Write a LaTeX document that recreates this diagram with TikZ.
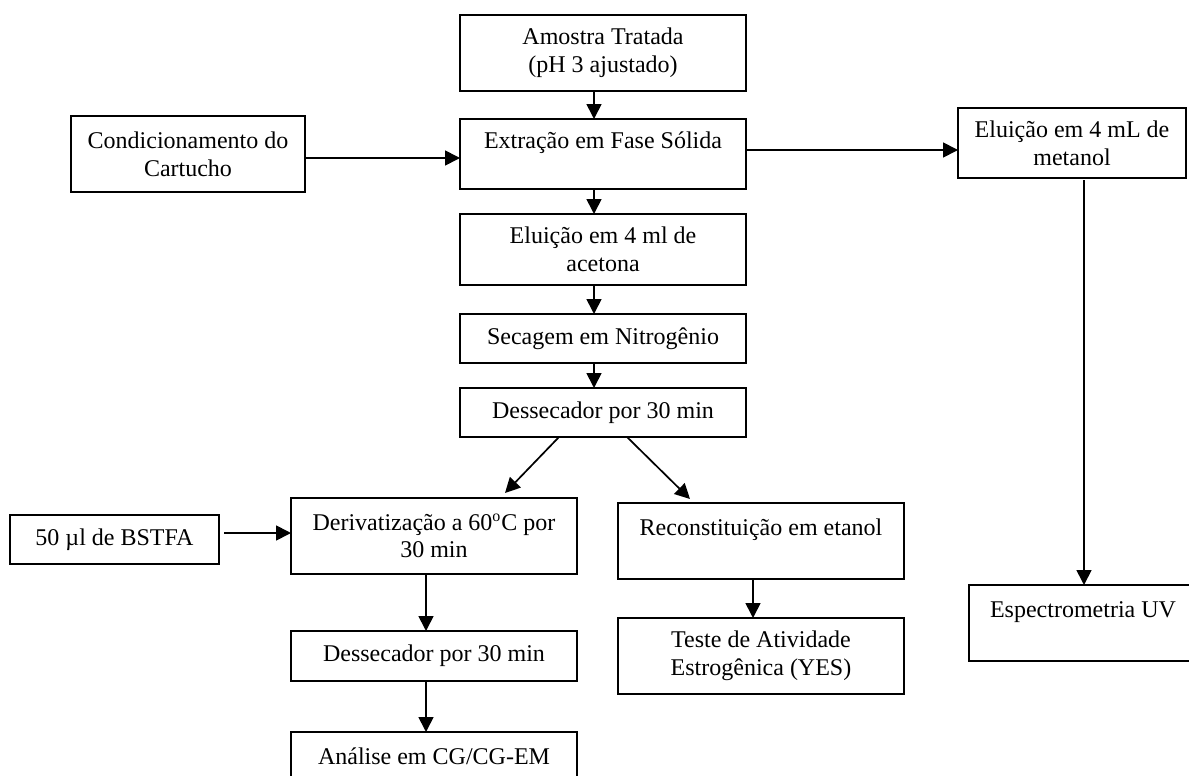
\documentclass[tikz,border=0pt]{standalone}
\usepackage{fontspec}
\setmainfont{Liberation Serif}
\usepackage{tikz}
\usetikzlibrary{positioning,arrows.meta}

\begin{document}
\begin{tikzpicture}[
		box/.style={draw, line width=1pt, outer sep=0pt, minimum width=143pt, minimum height=38pt,
								inner sep=2pt, align=center, font=\fontsize{12pt}{13.85pt}\selectfont},
		flatbox/.style={box, minimum height=24.5pt},
		sidebox/.style={box, minimum width=114pt, minimum height=35pt},
		arrow/.style={-{Triangle[length=7.5pt,width=7.5pt]}, line width=0.85pt},
	]
		\clip (0,0) rectangle (594.5pt,-388pt);

		% coluna central
		\node[box] (amostra) at (301.5pt,-26.5pt) {Amostra Tratada\\(pH 3 ajustado)};
		\node[box, minimum height=35pt, below=14pt of amostra] (extracao)
			{Extração em Fase Sólida\\~};
		\node[box, minimum height=35.5pt, below=12.5pt of extracao] (acetona)
			{Eluição em 4 ml de\\acetona};
		\node[flatbox, below=14.5pt of acetona] (secagem) {Secagem em Nitrogênio};
		\node[flatbox, below=12.5pt of secagem] (dessec) {Dessecador por 30 min};

		% entradas e saidas laterais
		\node[box, minimum width=117pt, left=77.5pt of extracao] (condic)
			{Condicionamento do\\Cartucho};
		\node[sidebox, right=106pt of extracao, yshift=5.5pt] (metanol)
			{Eluição em 4 mL de\\metanol};
		\node[sidebox, minimum width=130pt, minimum height=38pt, below=203.5pt of metanol.south west,
			anchor=north west, xshift=5.5pt] (espectro)
			{Espectrometria UV\rule{16pt}{0pt}\\~};

		% ramo CG
		\node[box, below=30.5pt of dessec, xshift=-84.5pt] (deriv)
			{Derivatização a 60\textsuperscript{o}C por\\30 min};
		\node[flatbox, minimum width=104.5pt, left=36pt of deriv, yshift=-1.75pt] (bstfa)
			{50 µl de BSTFA};
		\node[box, minimum height=25pt, below=28.5pt of deriv] (dessecb) {Dessecador por 30 min};
		\node[box, below=25.5pt of dessecb] (analise) {Análise em CG/CG-EM\\~};

		% ramo YES
		\node[box, below=33pt of dessec, xshift=79pt] (recons) {Reconstituição em etanol\\~};
		\node[box, below=19.5pt of recons] (teste) {Teste de Atividade\\Estrogênica (YES)};

		% setas
		\draw[arrow] ([xshift=-4.5pt]amostra.south) -- ([xshift=-4.5pt]extracao.north);
		\draw[arrow] ([xshift=-4.5pt]extracao.south) -- ([xshift=-4.5pt]acetona.north);
		\draw[arrow] ([xshift=-4.5pt]acetona.south) -- ([xshift=-4.5pt]secagem.north);
		\draw[arrow] ([xshift=-4.5pt]secagem.south) -- ([xshift=-4.5pt]dessec.north);
		\draw[arrow] ([yshift=-2pt]condic.east) -- ([yshift=-2pt]condic.east -| extracao.west);
		\draw[arrow] ([yshift=2pt]extracao.east) -- ([yshift=2pt]extracao.east -| metanol.west);
		\draw[arrow] ([xshift=6pt,yshift=-1pt]metanol.south)
			-- ([xshift=6pt]metanol.south |- espectro.north);
		\draw[arrow] ([xshift=-22pt]dessec.south) -- ([xshift=35.5pt,yshift=2.5pt]deriv.north);
		\draw[arrow] ([xshift=12pt]dessec.south) -- ([xshift=-35.5pt,yshift=2pt]recons.north);
		\draw[arrow, shorten <=2.5pt] ([yshift=3.25pt]bstfa.east)
			-- ([yshift=3.25pt]bstfa.east -| deriv.west);
		\draw[arrow] ([xshift=-4pt]deriv.south) -- ([xshift=-4pt]dessecb.north);
		\draw[arrow] ([xshift=-4pt]dessecb.south) -- ([xshift=-4pt]analise.north);
		\draw[arrow] ([xshift=-4pt]recons.south) -- ([xshift=-4pt]teste.north);
	\end{tikzpicture}
\end{document}
